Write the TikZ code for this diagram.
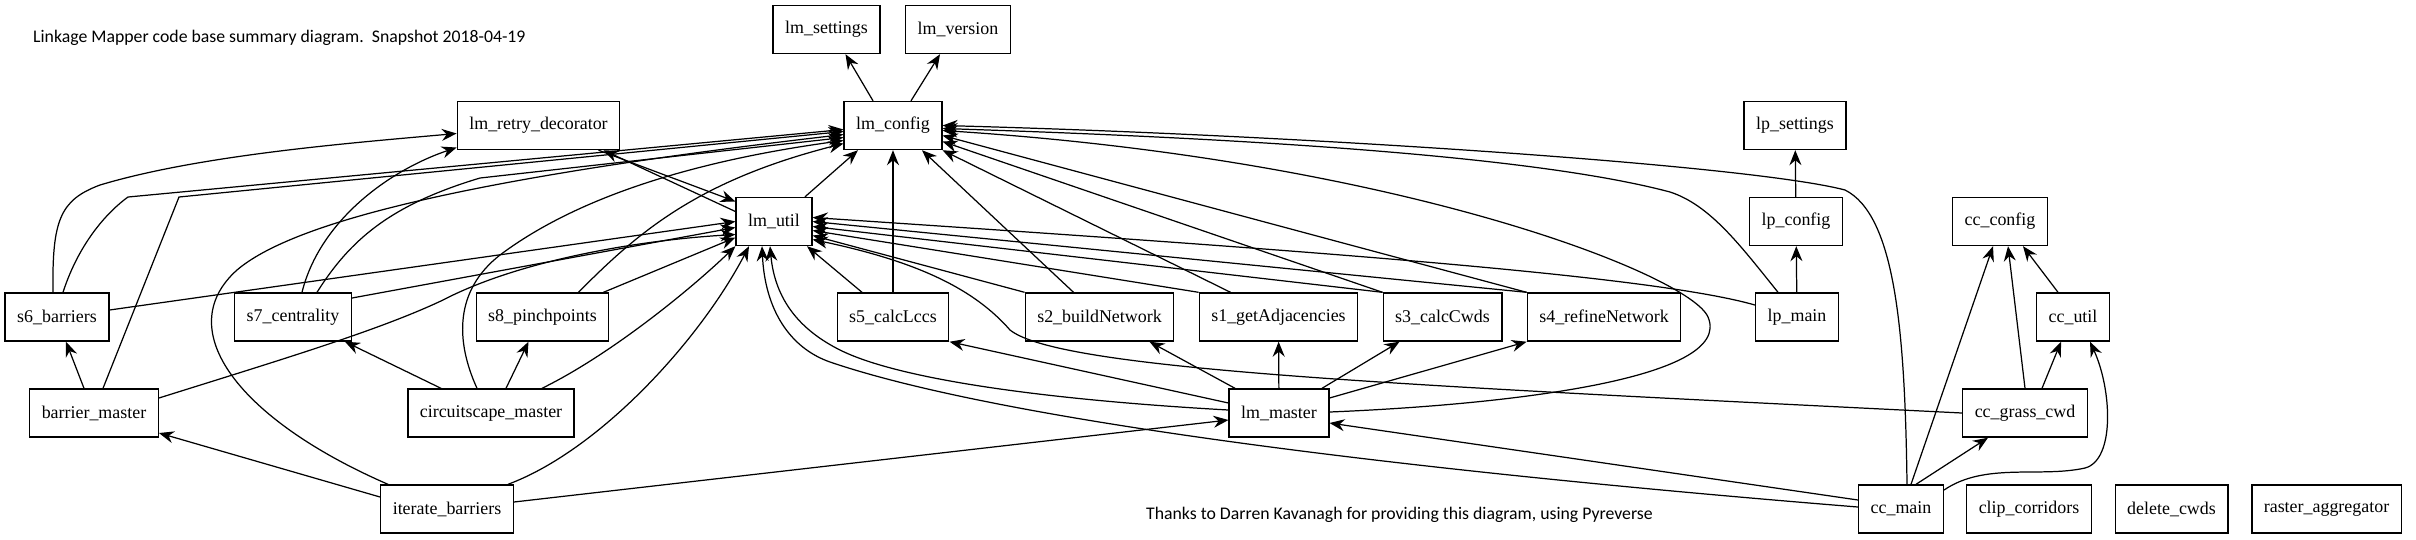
\documentclass[tikz,border=0pt]{standalone}
\usepackage{fontspec}
\setmainfont{Liberation Serif}
\newfontfamily\notefont{Carlito}
\usetikzlibrary{arrows.meta}

\begin{document}
\begin{tikzpicture}[
    x=.02cm,y=-.02cm,
    box/.style={draw,line width=.8pt,minimum height=.96cm,inner xsep=.24cm,
      font=\fontsize{10.2}{12}\selectfont},
    dep/.style={line width=.7pt,-{Stealth[length=.3cm,width=.24cm,inset=.1cm]}},
    note/.style={anchor=west,font=\notefont\fontsize{10.1}{12}\selectfont}]
  \useasboundingbox (0,0) rectangle (2416,539);

  \node[note] (title) at (27,38) {Linkage Mapper code base summary diagram.\ \ Snapshot 2018-04-19};
  \node[note] (thanks) at (1140,515) {Thanks to Darren Kavanagh for providing this diagram, using Pyreverse};

  \node[box] (lmSettings) at (826.5,29.5) {lm\_settings};
  \node[box] (lmVersion) at (958,29.5) {lm\_version};

  \node[box] (lmRetry) at (538.5,125.5) {lm\_retry\_decorator};
  \node[box] (lmConfig) at (893,125.5) {lm\_config};
  \node[box] (lpSettings) at (1795,125.5) {lp\_settings};

  \node[box] (lmUtil) at (774,221.5) {lm\_util};
  \node[box] (lpConfig) at (1796,221.5) {lp\_config};
  \node[box] (ccConfig) at (2000,221.5) {cc\_config};

  \node[box] (s6) at (57,317) {s6\_barriers};
  \node[box] (s7) at (293,317) {s7\_centrality};
  \node[box] (s8) at (542.5,317) {s8\_pinchpoints};
  \node[box] (s5) at (893,317) {s5\_calcLccs};
  \node[box] (s2) at (1099.5,317) {s2\_buildNetwork};
  \node[box] (s1) at (1278.5,317) {s1\_getAdjacencies};
  \node[box] (s3) at (1442.5,317) {s3\_calcCwds};
  \node[box] (s4) at (1604,317) {s4\_refineNetwork};
  \node[box] (lpMain) at (1797,317) {lp\_main};
  \node[box] (ccUtil) at (2073,317) {cc\_util};

  \node[box] (barrierMaster) at (94,413) {barrier\_master};
  \node[box] (cscapeMaster) at (491,413) {circuitscape\_master};
  \node[box] (lmMaster) at (1279,413) {lm\_master};
  \node[box] (ccGrass) at (2025,413) {cc\_grass\_cwd};

  \node[box] (iterBarriers) at (447,509) {iterate\_barriers};
  \node[box] (ccMain) at (1901,509) {cc\_main};
  \node[box] (clipCorridors) at (2029,509) {clip\_corridors};
  \node[box] (deleteCwds) at (2171.5,509) {delete\_cwds};
  \node[box] (rasterAgg) at (2326.5,509) {raster\_aggregator};

  \draw[dep] ([xshift=-.4cm]lmConfig.north) -- ([xshift=.38cm]lmSettings.south);
  \draw[dep] ([xshift=.36cm]lmConfig.north) -- ([xshift=-.36cm]lmVersion.south);
  \draw[dep] ([xshift=.62cm]lmUtil.north) -- ([xshift=-.7cm]lmConfig.south);
  \draw[dep] ([xshift=1.2cm]lmRetry.south) -- ([yshift=.4cm]lmUtil.west);
  \draw[dep] ([yshift=.2cm]lmUtil.west) -- ([xshift=1.3cm]lmRetry.south);

  \draw[dep] (lpConfig) -- (lpSettings);
  \draw[dep] (lpMain) -- (lpConfig);
  \draw[dep] ([xshift=-.3cm]ccUtil.north) -- ([xshift=.46cm]ccConfig.south);
  \draw[dep] (ccGrass.north) -- ([xshift=.16cm]ccConfig.south);
  \draw[dep] ([xshift=.34cm]ccGrass.north) -- ([xshift=-.24cm]ccUtil.south);
  \draw[dep] ([xshift=.3cm]ccMain.north) -- ([xshift=-.74cm]ccGrass.south);
  \draw[dep] ([xshift=.2cm]ccMain.north) -- ([xshift=-.14cm]ccConfig.south);
  \draw[dep] ([yshift=.38cm]ccMain.east) .. controls (1985,462) and (2040,478) .. (2085,468)
    .. controls (2115,460) and (2112,390) .. ([xshift=.34cm]ccUtil.south);

  \draw[dep] ([yshift=.24cm]iterBarriers.west) -- ([yshift=-.4cm]barrierMaster.east);
  \draw[dep] ([xshift=-.2cm]barrierMaster.north) -- ([xshift=.18cm]s6.south);
  \draw[dep] ([xshift=-1cm]cscapeMaster.north) -- ([xshift=-.14cm]s7.south east);
  \draw[dep] ([xshift=.3cm]cscapeMaster.north) -- ([xshift=-.28cm]s8.south);

  \draw[dep] ([yshift=.2cm]lmMaster.west) -- (s5.south east);
  \draw[dep] ([xshift=-.88cm]lmMaster.north) -- ([xshift=1cm]s2.south);
  \draw[dep] (lmMaster) -- (s1);
  \draw[dep] ([xshift=.86cm]lmMaster.north) -- ([xshift=-.86cm]s3.south);
  \draw[dep] ([yshift=.3cm]lmMaster.east) -- (s4.south west);
  \draw[dep] ([yshift=.14cm]iterBarriers.east) -- ([yshift=-.14cm]lmMaster.west);
  \draw[dep] ([yshift=.18cm]ccMain.west) -- ([yshift=-.2cm]lmMaster.east);

  \draw[dep] (s5) -- (lmConfig);
  \draw[dep] ([xshift=-.52cm]s2.north) -- ([xshift=.58cm]lmConfig.south);
  \draw[dep] ([xshift=-.96cm]s1.north) -- (lmConfig.south east);
  \draw[dep] (s3.north west) -- ([yshift=-.32cm]lmConfig.east);
  \draw[dep] (s4.north west) -- ([yshift=-.2cm]lmConfig.east);
  \draw[dep] ([xshift=-.62cm]s5.north) -- ([xshift=.66cm]lmUtil.south);
  \draw[dep] (s2.north west) -- ([yshift=-.28cm]lmUtil.east);
  \draw[dep] (s1.north west) -- ([yshift=-.18cm]lmUtil.east);
  \draw[dep] (s3.north west) -- ([yshift=-.1cm]lmUtil.east);
  \draw[dep] (s4.north west) -- (lmUtil.east);
  \draw[dep] ([yshift=.24cm]lpMain.west) .. controls (1650,275) and (1300,250) .. ([yshift=.08cm]lmUtil.east);

  \draw[dep] ([yshift=.14cm]s6.east) -- (lmUtil.west);
  \draw[dep] ([yshift=.38cm]s7.east) -- ([yshift=-.12cm]lmUtil.west);
  \draw[dep] ([xshift=-.12cm]s8.north east) -- ([yshift=-.32cm]lmUtil.west);
  \draw[dep] ([xshift=1.02cm]cscapeMaster.north) .. controls (610,355) and (690,290) .. (lmUtil.south west);
  \draw[dep] ([xshift=1.22cm]iterBarriers.north) .. controls (600,450) and (700,340) .. ([xshift=-.5cm]lmUtil.south);
  \draw[dep] ([yshift=.3cm]barrierMaster.east) .. controls (280,360) and (380,330) .. (443,300)
    .. controls (520,260) and (640,240) .. ([yshift=-.26cm]lmUtil.west);

  \draw[dep] ([yshift=.06cm]lmMaster.west) .. controls (1050,400) and (900,380) .. (840,350)
    .. controls (800,330) and (775,300) .. ([xshift=-.08cm]lmUtil.south);
  \draw[dep] ([yshift=.04cm]ccMain.west) .. controls (1400,470) and (1000,420) .. (830,362)
    .. controls (790,348) and (765,310) .. ([xshift=-.24cm]lmUtil.south);
  \draw[dep] (ccGrass.west) .. controls (1400,385) and (1060,370) .. (1010,330)
    .. controls (975,290) and (920,262) .. ([yshift=-.36cm]lmUtil.east);
  \draw[dep] ([yshift=.02cm]lmMaster.east) .. controls (1500,405) and (1735,380) .. (1708,317)
    .. controls (1690,275) and (1400,160) .. ([yshift=-.1cm]lmConfig.east);
  \draw[dep] ([xshift=-.38cm]lpMain.north) .. controls (1740,245) and (1710,205) .. (1670,192)
    .. controls (1550,160) and (1300,140) .. ([yshift=-.06cm]lmConfig.east);
  \draw[dep] ([xshift=.12cm]ccMain.north) .. controls (1905,330) and (1895,215) .. (1845,190)
    .. controls (1750,165) and (1300,135) .. (lmConfig.east);

  \draw[dep] ([xshift=-.08cm]s6.north) .. controls (52,220) and (60,200) .. (100,185)
    .. controls (200,155) and (350,143) .. ([yshift=-.16cm]lmRetry.west);
  \draw[dep] ([xshift=.18cm]s7.north) .. controls (320,220) and (390,170) .. ([yshift=-.44cm]lmRetry.west);

  \draw[dep] ([xshift=.12cm]s6.north) .. controls (80,240) and (110,210) .. (128,197) -- ([yshift=-.08cm]lmConfig.west);
  \draw[dep] ([xshift=.18cm]barrierMaster.north) -- (179,197) -- ([yshift=-.12cm]lmConfig.west);
  \draw[dep] ([xshift=-1.18cm]iterBarriers.north) .. controls (240,420) and (170,330) .. (237,270)
    .. controls (290,225) and (450,180) .. ([yshift=-.18cm]lmConfig.west);
  \draw[dep] ([xshift=.48cm]s7.north) .. controls (350,240) and (390,205) .. (480,178) -- ([yshift=-.24cm]lmConfig.west);
  \draw[dep] ([xshift=-.28cm]cscapeMaster.north) .. controls (455,340) and (455,290) .. (500,255)
    .. controls (580,195) and (700,160) .. ([yshift=-.3cm]lmConfig.west);
  \draw[dep] ([xshift=.72cm]s8.north) .. controls (640,230) and (700,180) .. ([yshift=-.36cm]lmConfig.west);
\end{tikzpicture}
\end{document}
